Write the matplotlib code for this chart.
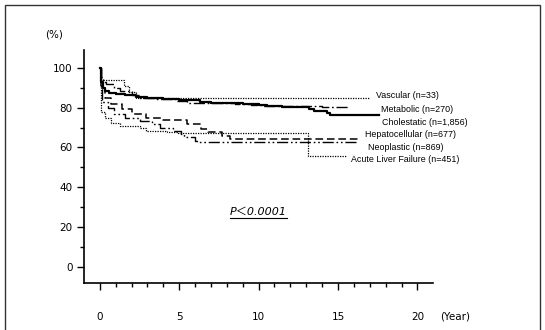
import matplotlib
matplotlib.use("Agg")
import matplotlib.pyplot as plt
from matplotlib.patches import Rectangle
from matplotlib.lines import Line2D

# survival curves (years, %)
vascular_t = [0, 0.1, 1.5, 1.85, 2.25, 17.0]
vascular_s = [100, 94, 91, 88, 84.8, 84.8]

metabolic_t = [0, 0.1, 0.2, 0.4, 0.9, 1.3, 2.0, 2.5, 3.5, 4.8, 5.5, 6.5, 8.5, 9.5, 10.3, 12.0, 14.0, 15.6]
metabolic_s = [100, 95.5, 93, 92, 90, 88.5, 86.5, 85, 84.3, 83.5, 82.6, 82.2, 82.0, 81.5, 81.0, 80.6, 80.1, 80.1]

cholestatic_t = [0, 0.05, 0.1, 0.2, 0.35, 0.6, 1.0, 1.6, 2.3, 3.0, 4.0, 5.0, 5.5, 6.3, 7.0, 8.0,
                 9.0, 10.0, 10.5, 11.5, 12.4, 13.2, 13.5, 14.3, 14.5, 17.6]
cholestatic_s = [100, 96, 93, 90, 88.5, 87.5, 86.8, 86.2, 85.3, 85.0, 84.5, 84.0, 83.7, 83.0, 82.5, 82.2,
                 81.8, 81.2, 80.8, 80.4, 80.1, 79.2, 78.4, 77.3, 76.2, 76.2]

hepato_t = [0, 0.1, 0.3, 0.7, 1.4, 2.0, 2.9, 4.0, 5.5, 6.4, 6.8, 7.7, 8.2, 16.3]
hepato_s = [100, 90, 85, 81.7, 79.2, 76.7, 75, 73.7, 71.7, 69.2, 68, 65.8, 64.2, 64.2]

neo_t = [0, 0.05, 0.15, 0.5, 0.9, 1.6, 2.5, 3.3, 3.8, 4.6, 5.1, 5.3, 6.0, 6.2, 16.2]
neo_s = [100, 90, 83, 80, 76.7, 75, 73.3, 71.7, 70, 68.3, 66.7, 65, 63.3, 62.5, 62.5]

alf_t = [0, 0.05, 0.1, 0.3, 0.7, 1.25, 2.5, 2.9, 4.2, 4.9, 13.1, 15.5]
alf_s = [100, 85, 78, 75, 72.5, 70.8, 70, 68.3, 67.8, 67.5, 55.8, 55.8]

labels = ["Vascular (n=33)", "Metabolic (n=270)", "Cholestatic (n=1,856)",
          "Hepatocellular (n=677)", "Neoplastic (n=869)", "Acute Liver Failure (n=451)"]
label_x = [17.4, 17.72, 17.78, 16.67, 16.87, 15.79]
label_y = [86.3, 79.3, 72.7, 66.7, 60.1, 53.8]

fig = plt.figure(figsize=(5.45, 3.30), dpi=100)
ax = fig.add_axes([0.154, 0.1424, 0.641, 0.706])

# curves
ax.step(vascular_t, vascular_s, where="post", color="black", lw=0.9, linestyle=(0, (1, 1)))
ax.step(metabolic_t, metabolic_s, where="post", color="black", lw=1.0, linestyle=(0, (8, 2, 1.2, 2)))
ax.step(cholestatic_t, cholestatic_s, where="post", color="black", lw=1.6)
ax.step(hepato_t, hepato_s, where="post", color="black", lw=1.1, linestyle=(0, (5, 2.5)))
ax.step(neo_t, neo_s, where="post", color="black", lw=1.0, linestyle=(0, (8, 2, 1.2, 2, 1.2, 2)))
ax.step(alf_t, alf_s, where="post", color="black", lw=0.9, linestyle=(0, (1, 1)))

for lab, x, y in zip(labels, label_x, label_y):
    ax.text(x, y, lab, fontsize=6.4, family="Liberation Sans", ha="left", va="center")

ax.set_xlim(-1, 21)
ax.set_ylim(-8.2, 109)
ax.set_xticks([0, 5, 10, 15, 20])
ax.set_xticks(range(0, 21), minor=True)
ax.set_yticks([0, 20, 40, 60, 80, 100])
ax.set_yticks([10, 30, 50, 70, 90], minor=True)
ax.tick_params(axis="both", which="major", direction="out", length=5, width=1, labelsize=7.5, pad=16)
ax.tick_params(axis="y", which="major", pad=3)
ax.tick_params(axis="both", which="minor", direction="out", length=3, width=1)
for s in ["top", "right"]:
    ax.spines[s].set_visible(False)
for s in ["left", "bottom"]:
    ax.spines[s].set_linewidth(1.2)

fig.text(0.099, 0.894, "(%)", fontsize=7.5, ha="center", va="center")
fig.text(0.808, 0.040, "(Year)", fontsize=7.5, ha="left", va="center")

# p value, underlined
pt = ax.text(10.0, 27.5, "P＜0.0001", fontsize=8, style="italic",
             family=["DejaVu Sans", "Noto Sans CJK JP"], ha="center", va="center")
fig.canvas.draw()
bb = pt.get_window_extent().transformed(fig.transFigure.inverted())
fig.add_artist(Line2D([bb.x0, bb.x1], [bb.y0 - 0.004, bb.y0 - 0.004], color="black", lw=0.8))

# outer frame (bottom edge is cut off in the original)
fig.add_artist(Rectangle((5 / 545, -0.05), 535 / 545, (325 / 330) + 0.05, fill=False,
                         edgecolor="#333333", lw=1.0, transform=fig.transFigure))

fig.savefig("out.png", dpi=100)
